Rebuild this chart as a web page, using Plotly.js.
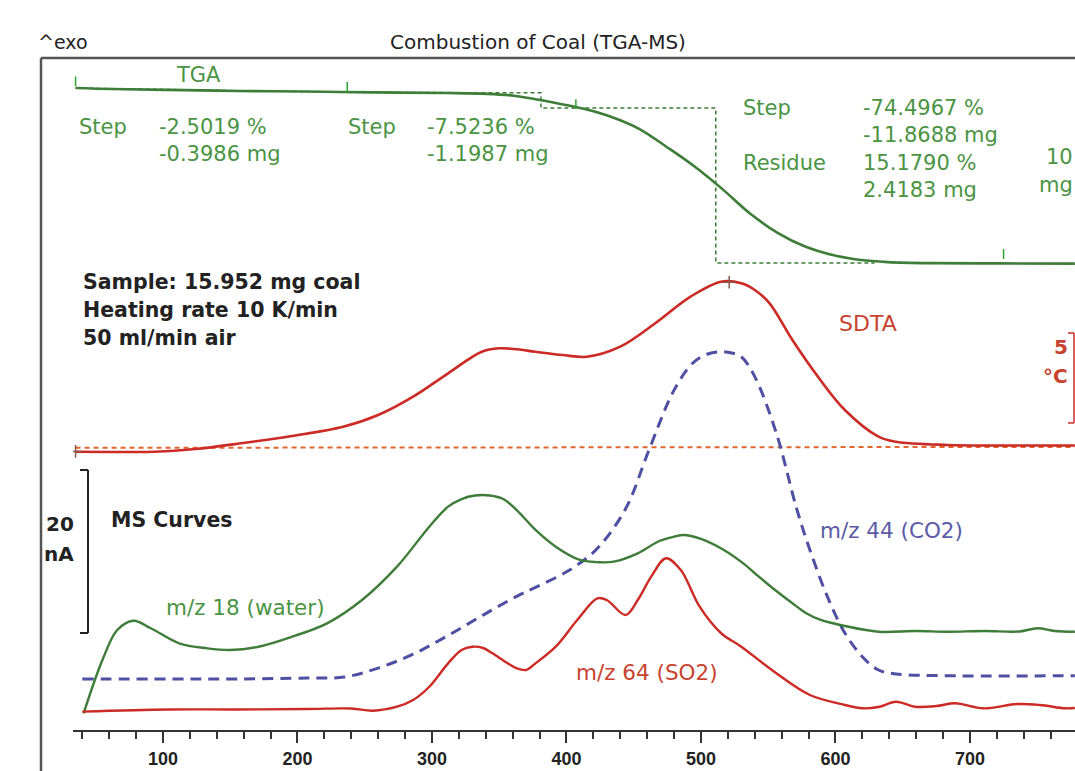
<!DOCTYPE html>
<html><head><meta charset="utf-8">
<script src="https://cdn.plot.ly/plotly-3.0.1.min.js"></script>
<style>html,body{margin:0;padding:0;background:#fff}#chart{width:1075px;height:771px}</style>
</head><body><div id="chart"></div>
<script>
// ---- Data (temperature in °C) ----
const tgaT   = [35, 62, 104, 155, 207, 258, 310, 341, 361, 377, 392, 413, 433, 454, 474, 495, 516, 536, 557, 577, 598, 619, 639, 670, 722, 778];
const tgaPct = [99.6, 99.1, 98.7, 98.2, 97.9, 97.5, 97.2, 96.8, 95.9, 94.2, 92.4, 89.6, 85.8, 80.0, 71.5, 62.0, 51.0, 39.5, 30.0, 23.5, 19.3, 16.9, 15.9, 15.4, 15.3, 15.2];

const tgaStepT   = [35, 240, 381, 381, 511, 511, 629];
const tgaStepPct = [99.6, 97.5, 97.3, 90.0, 90.0, 15.5, 15.5];
const tgaMarkT   = [35, 237, 407, 725];
const tgaMarkPct = [102.8, 100.2, 91.9, 19.8];

const sdtaT  = [35, 62, 94, 124, 158, 196, 234, 260, 286, 312, 337, 350, 361, 377, 397, 415, 440, 466, 492, 515, 530, 540, 551, 568, 587, 607, 632, 645, 683, 721, 778];
const sdtaDT = [-0.32, -0.33, -0.32, -0.17, 0.15, 0.56, 1.07, 1.72, 2.74, 4.04, 5.24, 5.43, 5.39, 5.24, 5.06, 4.96, 5.52, 6.82, 8.29, 9.13, 9.04, 8.67, 7.93, 5.89, 3.85, 2.0, 0.52, 0.24, 0.06, 0.03, 0.03];
const sdtaBaseT  = [35, 778];
const sdtaBaseDT = [-0.1, -0.05];
const sdtaMarkT  = [35, 521];
const sdtaMarkDT = [-0.3, 9.1];

const waterT  = [41, 55, 66, 78, 91, 112, 133, 150, 171, 196, 222, 248, 274, 298, 312, 322, 332, 343, 353, 363, 377, 392, 410, 423, 435, 453, 469, 480, 487, 500, 517, 531, 543, 557, 568, 578, 589, 607, 632, 660, 683, 711, 737, 750, 763, 778];
const waterNA = [2.05, 8.59, 12.27, 13.41, 12.48, 10.64, 10.02, 9.82, 10.22, 11.45, 13.09, 15.95, 20.04, 24.94, 27.4, 28.34, 28.77, 28.77, 28.34, 26.99, 24.54, 22.49, 20.86, 20.6, 20.65, 21.68, 23.19, 23.72, 23.93, 23.44, 22.09, 20.5, 18.81, 16.93, 15.55, 14.36, 13.5, 12.76, 12.06, 12.15, 12.06, 12.15, 12.09, 12.48, 12.15, 12.06];

const co2T  = [40, 104, 155, 207, 235, 260, 286, 312, 338, 363, 377, 401, 420, 433, 446, 461, 480, 494, 505, 515, 523, 530, 540, 556, 571, 581, 594, 607, 620, 632, 645, 683, 778];
const co2NA = [6.26, 6.26, 6.26, 6.38, 6.5, 7.6, 9.3, 11.6, 14.1, 16.4, 17.5, 19.5, 21.8, 24.3, 27.8, 34.2, 41.7, 45.03, 46.13, 46.42, 46.26, 45.8, 43.35, 36.44, 27.24, 22.09, 16.36, 11.9, 8.99, 7.36, 6.87, 6.66, 6.66];

const so2T  = [40, 104, 155, 207, 240, 256, 274, 286, 298, 312, 322, 330, 338, 345, 356, 363, 370, 377, 392, 408, 423, 430, 444, 453, 463, 474, 485, 499, 515, 530, 556, 581, 607, 620, 632, 645, 659, 675, 689, 710, 735, 752, 771, 778];
const so2NA = [2.25, 2.52, 2.52, 2.58, 2.64, 2.37, 2.86, 3.68, 5.31, 8.18, 9.82, 10.22, 10.06, 9.41, 8.22, 7.57, 7.36, 8.18, 10.22, 13.5, 16.16, 15.95, 14.11, 15.95, 18.81, 21.07, 19.63, 15.13, 11.87, 10.22, 6.96, 4.29, 3.07, 2.66, 2.82, 3.47, 2.86, 2.94, 3.28, 2.66, 3.19, 3.07, 2.66, 2.7];

const xTickVals = [100, 200, 300, 400, 500, 600, 700];
const msScaleNA = 20, msScaleFrom = 11.9;     // 20 nA scale bar
const sdtaScaleC = 5, sdtaScaleFrom = 1.28;   // 5 °C scale bar

// ---- Styles ----
const GREEN = '#3d7d37', GREEN_T = '#4a9444';
const RED = '#cc2a24', RED_T = '#c8432f';
const BLUE = '#4f4fa3', BLUE_T = '#5a5aa6';
const FONT = 'DejaVu Sans, Arial, sans-serif';
const W = 1075, H = 771, PT = 58, PB = 730;
const px2x = p => p / W;
const py2y = p => (PB - p) / (PB - PT);

function line(x, y, color, yaxis, width, dash, name, shape) {
  return {x, y, yaxis, type: 'scatter', mode: 'lines', name,
    line: {color, width, dash: dash || 'solid', shape: shape || 'spline', smoothing: 1},
    hoverinfo: 'skip', showlegend: false};
}

const traces = [
  line(tgaStepT, tgaStepPct, GREEN, 'y', 1.5, '4px,3px', 'TGA step', 'linear'),
  line(tgaT, tgaPct, GREEN, 'y', 2.6, null, 'TGA'),
  {x: tgaMarkT, y: tgaMarkPct, yaxis: 'y', type: 'scatter', mode: 'markers',
   marker: {symbol: 'line-ns-open', size: 7, line: {color: GREEN, width: 1.5}}, showlegend: false, hoverinfo: 'skip'},
  line(sdtaBaseT, sdtaBaseDT, '#e0662e', 'y2', 2, '5px,4px', 'SDTA baseline', 'linear'),
  line(sdtaT, sdtaDT, RED, 'y2', 2.6, null, 'SDTA'),
  {x: sdtaMarkT, y: sdtaMarkDT, yaxis: 'y2', type: 'scatter', mode: 'markers',
   marker: {symbol: 'cross-thin-open', size: 9, line: {color: RED, width: 1.5}}, showlegend: false, hoverinfo: 'skip'},
  line(co2T, co2NA, BLUE, 'y3', 3, '11px,7px', 'm/z 44'),
  line(waterT, waterNA, GREEN, 'y3', 2.4, null, 'm/z 18'),
  line(so2T, so2NA, RED, 'y3', 2.4, null, 'm/z 64')
];

function ann(text, px, py, color, xanchor, size, bold) {
  return {text: bold ? '<b>' + text + '</b>' : text, xref: 'paper', yref: 'paper',
    x: px2x(px), y: py2y(py), xanchor: xanchor || 'left', yanchor: 'middle',
    showarrow: false, borderpad: 0,
    font: {family: FONT, size: size || 21, color}};
}

const annotations = [
  ann('^exo', 37, 42, '#222', 'left', 19),
  ann('TGA', 175, 75, GREEN_T),
  ann('Step', 78, 127, GREEN_T),
  ann('-2.5019 %', 158, 127, GREEN_T),
  ann('-0.3986 mg', 158, 154, GREEN_T),
  ann('Step', 347, 127, GREEN_T),
  ann('-7.5236 %', 426, 127, GREEN_T),
  ann('-1.1987 mg', 426, 154, GREEN_T),
  ann('Step', 742, 108, GREEN_T),
  ann('-74.4967 %', 862, 108, GREEN_T),
  ann('-11.8688 mg', 862, 135, GREEN_T),
  ann('Residue', 742, 163, GREEN_T),
  ann('15.1790 %', 862, 163, GREEN_T),
  ann('2.4183 mg', 862, 190, GREEN_T),
  ann('10', 1074, 157, GREEN_T, 'right'),
  ann('mg', 1074, 185, GREEN_T, 'right'),
  ann('Sample: 15.952 mg coal', 82, 282, '#222', 'left', 20.5, true),
  ann('Heating rate 10 K/min', 82, 310, '#222', 'left', 20.5, true),
  ann('50 ml/min air', 82, 338, '#222', 'left', 20.5, true),
  ann('SDTA', 838, 323, RED_T, 'left', 22),
  ann('5', 1069, 347, RED_T, 'right', 20, true),
  ann('°C', 1069, 376, RED_T, 'right', 20, true),
  ann('MS Curves', 110, 520, '#222', 'left', 20.5, true),
  ann('20', 75, 524, '#222', 'right', 20, true),
  ann('nA', 75, 554, '#222', 'right', 20, true),
  ann('m/z 18 (water)', 165, 607, GREEN_T, 'left', 21.5),
  ann('m/z 44 (CO2)', 819, 530, BLUE_T, 'left', 21.5),
  ann('m/z 64 (SO2)', 575, 672, RED_T, 'left', 21.5)
];

const frame = {color: '#555', width: 2.5};
const shapes = [
  {type: 'line', xref: 'paper', yref: 'paper', x0: px2x(41), x1: 1.01, y0: 1, y1: 1, line: frame},
  {type: 'line', xref: 'paper', yref: 'paper', x0: px2x(41), x1: px2x(41), y0: 1, y1: py2y(775), line: frame},
  // 20 nA scale bar
  {type: 'line', xref: 'paper', yref: 'y3', x0: px2x(88), x1: px2x(88), y0: msScaleFrom, y1: msScaleFrom + msScaleNA, line: {color: '#222', width: 2}},
  {type: 'line', xref: 'paper', yref: 'y3', x0: px2x(80), x1: px2x(88), y0: msScaleFrom, y1: msScaleFrom, line: {color: '#222', width: 2}},
  {type: 'line', xref: 'paper', yref: 'y3', x0: px2x(80), x1: px2x(88), y0: msScaleFrom + msScaleNA, y1: msScaleFrom + msScaleNA, line: {color: '#222', width: 2}},
  // 5 °C scale bar
  {type: 'line', xref: 'paper', yref: 'y2', x0: px2x(1074), x1: px2x(1074), y0: sdtaScaleFrom, y1: sdtaScaleFrom + sdtaScaleC, line: {color: RED, width: 1.5}},
  {type: 'line', xref: 'paper', yref: 'y2', x0: px2x(1068), x1: px2x(1074), y0: sdtaScaleFrom, y1: sdtaScaleFrom, line: {color: RED, width: 1.5}},
  {type: 'line', xref: 'paper', yref: 'y2', x0: px2x(1068), x1: px2x(1074), y0: sdtaScaleFrom + sdtaScaleC, y1: sdtaScaleFrom + sdtaScaleC, line: {color: RED, width: 1.5}}
];

const hiddenY = r => ({range: r, visible: false, fixedrange: true, showgrid: false, zeroline: false});

const layout = {
  width: W, height: H,
  margin: {l: 0, r: 0, t: PT, b: H - PB, pad: 0},
  paper_bgcolor: '#fff', plot_bgcolor: 'rgba(0,0,0,0)',
  showlegend: false,
  title: {text: 'Combustion of Coal (TGA-MS)', x: 538 / W, xref: 'container', xanchor: 'center',
          y: 1 - 42 / H, yref: 'container', yanchor: 'middle',
          font: {family: FONT, size: 20, color: '#222'}},
  xaxis: {domain: [73 / W, 1], range: [33.1, 778.1], showgrid: false, zeroline: false,
          showline: true, linecolor: '#333', linewidth: 2,
          tickmode: 'array', tickvals: xTickVals, ticks: 'outside', ticklen: 11, tickwidth: 2, tickcolor: '#333',
          minor: {tickmode: 'linear', tick0: 0, dtick: 20, ticks: 'outside', ticklen: 7, tickwidth: 2, tickcolor: '#333'},
          tickfont: {family: 'Liberation Sans, Arial, sans-serif', size: 18, weight: 'bold', color: '#222'}, fixedrange: true},
  yaxis: hiddenY([-209.04, 114.04]),
  yaxis2: Object.assign(hiddenY([-15.78, 21.56]), {overlaying: 'y'}),
  yaxis3: Object.assign(hiddenY([0, 82.45]), {overlaying: 'y'}),
  annotations, shapes
};

Plotly.newPlot('chart', traces, layout, {staticPlot: true, displayModeBar: false});
</script></body></html>
